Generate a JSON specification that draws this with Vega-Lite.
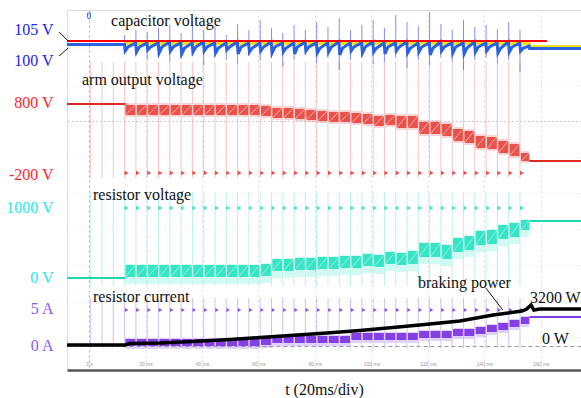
{
  "$schema": "https://vega.github.io/schema/vega-lite/v6.json",
  "width": 514,
  "height": 360,
  "autosize": {"type": "none"},
  "padding": {"left": 67, "top": 10, "right": 0, "bottom": 28},
  "background": "white",
  "config": {"view": {"stroke": "#dcdcdc"}, "font": "Liberation Serif"},
  "datasets": {
    "traces": [
      {"ch": "arm", "seg": 1, "t": -7.8, "v": 104}, {"ch": "arm", "seg": 1, "t": 12.9, "v": 104},
      {"ch": "arm", "seg": 2, "t": 155.9, "v": 161}, {"ch": "arm", "seg": 2, "t": 174.2, "v": 161},
      {"ch": "res", "seg": 1, "t": -7.8, "v": 278}, {"ch": "res", "seg": 1, "t": 12.9, "v": 278},
      {"ch": "res", "seg": 2, "t": 155.9, "v": 221}, {"ch": "res", "seg": 2, "t": 174.2, "v": 221},
      {"ch": "cur", "seg": 1, "t": -7.8, "v": 345}, {"ch": "cur", "seg": 1, "t": 12.9, "v": 345},
      {"ch": "cur", "seg": 2, "t": 155.9, "v": 317}, {"ch": "cur", "seg": 2, "t": 174.2, "v": 317},
      {"ch": "ref", "seg": 1, "t": -7.8, "v": 41}, {"ch": "ref", "seg": 1, "t": 162.1, "v": 41},
      {"ch": "yel", "seg": 1, "t": 12.6, "v": 43.5}, {"ch": "yel", "seg": 1, "t": 155.8, "v": 43.5},
      {"ch": "yel", "seg": 1, "t": 155.9, "v": 46.5}, {"ch": "yel", "seg": 1, "t": 174.2, "v": 46.5},
      {"ch": "pow", "seg": 1, "t": -7.8, "v": 345}, {"ch": "pow", "seg": 1, "t": 12.7, "v": 345},
      {"ch": "pow", "seg": 1, "t": 14.5, "v": 343.5}, {"ch": "pow", "seg": 1, "t": 25.1, "v": 343},
      {"ch": "pow", "seg": 1, "t": 36.8, "v": 341.5}, {"ch": "pow", "seg": 1, "t": 49.9, "v": 339.5},
      {"ch": "pow", "seg": 1, "t": 60.5, "v": 337.5}, {"ch": "pow", "seg": 1, "t": 71.2, "v": 335.5},
      {"ch": "pow", "seg": 1, "t": 84.2, "v": 333}, {"ch": "pow", "seg": 1, "t": 95.9, "v": 330.5},
      {"ch": "pow", "seg": 1, "t": 107.6, "v": 327.5}, {"ch": "pow", "seg": 1, "t": 118.9, "v": 324.5},
      {"ch": "pow", "seg": 1, "t": 131.3, "v": 321}, {"ch": "pow", "seg": 1, "t": 143.1, "v": 315},
      {"ch": "pow", "seg": 1, "t": 150.8, "v": 312}, {"ch": "pow", "seg": 1, "t": 153.3, "v": 311},
      {"ch": "pow", "seg": 1, "t": 155, "v": 309}, {"ch": "pow", "seg": 1, "t": 156.5, "v": 305},
      {"ch": "pow", "seg": 1, "t": 157.5, "v": 310}, {"ch": "pow", "seg": 1, "t": 159.6, "v": 309},
      {"ch": "pow", "seg": 1, "t": 174.2, "v": 309},
      {"ch": "cap", "seg": 1, "t": -7.8, "v": 44.5}, {"ch": "cap", "seg": 1, "t": 12.6, "v": 44.5},
      {"ch": "cap", "seg": 1, "t": 12.8, "v": 51}, {"ch": "cap", "seg": 1, "t": 13.8, "v": 47}, {"ch": "cap", "seg": 1, "t": 16.5, "v": 43},
      {"ch": "cap", "seg": 1, "t": 16.8, "v": 52}, {"ch": "cap", "seg": 1, "t": 17.8, "v": 47}, {"ch": "cap", "seg": 1, "t": 20.5, "v": 43},
      {"ch": "cap", "seg": 1, "t": 20.8, "v": 50}, {"ch": "cap", "seg": 1, "t": 21.8, "v": 47}, {"ch": "cap", "seg": 1, "t": 24.5, "v": 43},
      {"ch": "cap", "seg": 1, "t": 24.8, "v": 53}, {"ch": "cap", "seg": 1, "t": 25.8, "v": 47}, {"ch": "cap", "seg": 1, "t": 28.5, "v": 42},
      {"ch": "cap", "seg": 1, "t": 28.8, "v": 51}, {"ch": "cap", "seg": 1, "t": 29.8, "v": 47}, {"ch": "cap", "seg": 1, "t": 32.5, "v": 43},
      {"ch": "cap", "seg": 1, "t": 32.8, "v": 54}, {"ch": "cap", "seg": 1, "t": 33.8, "v": 48}, {"ch": "cap", "seg": 1, "t": 36.5, "v": 43},
      {"ch": "cap", "seg": 1, "t": 36.8, "v": 52}, {"ch": "cap", "seg": 1, "t": 37.8, "v": 47}, {"ch": "cap", "seg": 1, "t": 40.5, "v": 42},
      {"ch": "cap", "seg": 1, "t": 40.8, "v": 51}, {"ch": "cap", "seg": 1, "t": 41.8, "v": 47}, {"ch": "cap", "seg": 1, "t": 44.5, "v": 43},
      {"ch": "cap", "seg": 1, "t": 44.8, "v": 53}, {"ch": "cap", "seg": 1, "t": 45.8, "v": 48}, {"ch": "cap", "seg": 1, "t": 48.5, "v": 43},
      {"ch": "cap", "seg": 1, "t": 48.8, "v": 50}, {"ch": "cap", "seg": 1, "t": 49.8, "v": 47}, {"ch": "cap", "seg": 1, "t": 52.5, "v": 42},
      {"ch": "cap", "seg": 1, "t": 52.8, "v": 54}, {"ch": "cap", "seg": 1, "t": 53.8, "v": 47}, {"ch": "cap", "seg": 1, "t": 56.5, "v": 43},
      {"ch": "cap", "seg": 1, "t": 56.8, "v": 52}, {"ch": "cap", "seg": 1, "t": 57.8, "v": 48}, {"ch": "cap", "seg": 1, "t": 60.5, "v": 43},
      {"ch": "cap", "seg": 1, "t": 60.8, "v": 51}, {"ch": "cap", "seg": 1, "t": 61.8, "v": 47}, {"ch": "cap", "seg": 1, "t": 64.5, "v": 42},
      {"ch": "cap", "seg": 1, "t": 64.8, "v": 53}, {"ch": "cap", "seg": 1, "t": 65.8, "v": 47}, {"ch": "cap", "seg": 1, "t": 68.5, "v": 43},
      {"ch": "cap", "seg": 1, "t": 68.8, "v": 52}, {"ch": "cap", "seg": 1, "t": 69.8, "v": 48}, {"ch": "cap", "seg": 1, "t": 72.5, "v": 43},
      {"ch": "cap", "seg": 1, "t": 72.8, "v": 54}, {"ch": "cap", "seg": 1, "t": 73.8, "v": 47}, {"ch": "cap", "seg": 1, "t": 76.5, "v": 42},
      {"ch": "cap", "seg": 1, "t": 76.8, "v": 51}, {"ch": "cap", "seg": 1, "t": 77.8, "v": 47}, {"ch": "cap", "seg": 1, "t": 80.5, "v": 43},
      {"ch": "cap", "seg": 1, "t": 80.8, "v": 53}, {"ch": "cap", "seg": 1, "t": 81.8, "v": 48}, {"ch": "cap", "seg": 1, "t": 84.5, "v": 43},
      {"ch": "cap", "seg": 1, "t": 84.8, "v": 52}, {"ch": "cap", "seg": 1, "t": 85.8, "v": 47}, {"ch": "cap", "seg": 1, "t": 88.5, "v": 42},
      {"ch": "cap", "seg": 1, "t": 88.8, "v": 55}, {"ch": "cap", "seg": 1, "t": 89.8, "v": 48}, {"ch": "cap", "seg": 1, "t": 92.5, "v": 43},
      {"ch": "cap", "seg": 1, "t": 92.8, "v": 51}, {"ch": "cap", "seg": 1, "t": 93.8, "v": 47}, {"ch": "cap", "seg": 1, "t": 96.5, "v": 43},
      {"ch": "cap", "seg": 1, "t": 96.8, "v": 53}, {"ch": "cap", "seg": 1, "t": 97.8, "v": 47}, {"ch": "cap", "seg": 1, "t": 100.5, "v": 42},
      {"ch": "cap", "seg": 1, "t": 100.8, "v": 52}, {"ch": "cap", "seg": 1, "t": 101.8, "v": 48}, {"ch": "cap", "seg": 1, "t": 104.5, "v": 43},
      {"ch": "cap", "seg": 1, "t": 104.8, "v": 54}, {"ch": "cap", "seg": 1, "t": 105.8, "v": 47}, {"ch": "cap", "seg": 1, "t": 108.5, "v": 43},
      {"ch": "cap", "seg": 1, "t": 108.8, "v": 51}, {"ch": "cap", "seg": 1, "t": 109.8, "v": 47}, {"ch": "cap", "seg": 1, "t": 112.5, "v": 42},
      {"ch": "cap", "seg": 1, "t": 112.8, "v": 53}, {"ch": "cap", "seg": 1, "t": 113.8, "v": 48}, {"ch": "cap", "seg": 1, "t": 116.5, "v": 43},
      {"ch": "cap", "seg": 1, "t": 116.8, "v": 52}, {"ch": "cap", "seg": 1, "t": 117.8, "v": 47}, {"ch": "cap", "seg": 1, "t": 120.5, "v": 43},
      {"ch": "cap", "seg": 1, "t": 120.8, "v": 55}, {"ch": "cap", "seg": 1, "t": 121.8, "v": 48}, {"ch": "cap", "seg": 1, "t": 124.5, "v": 42},
      {"ch": "cap", "seg": 1, "t": 124.8, "v": 51}, {"ch": "cap", "seg": 1, "t": 125.8, "v": 47}, {"ch": "cap", "seg": 1, "t": 128.5, "v": 43},
      {"ch": "cap", "seg": 1, "t": 128.8, "v": 53}, {"ch": "cap", "seg": 1, "t": 129.8, "v": 47}, {"ch": "cap", "seg": 1, "t": 132.5, "v": 43},
      {"ch": "cap", "seg": 1, "t": 132.8, "v": 54}, {"ch": "cap", "seg": 1, "t": 133.8, "v": 48}, {"ch": "cap", "seg": 1, "t": 136.5, "v": 42},
      {"ch": "cap", "seg": 1, "t": 136.8, "v": 52}, {"ch": "cap", "seg": 1, "t": 137.8, "v": 47}, {"ch": "cap", "seg": 1, "t": 140.5, "v": 43},
      {"ch": "cap", "seg": 1, "t": 140.8, "v": 51}, {"ch": "cap", "seg": 1, "t": 141.8, "v": 47}, {"ch": "cap", "seg": 1, "t": 144.5, "v": 43},
      {"ch": "cap", "seg": 1, "t": 144.8, "v": 53}, {"ch": "cap", "seg": 1, "t": 145.8, "v": 48}, {"ch": "cap", "seg": 1, "t": 148.5, "v": 42},
      {"ch": "cap", "seg": 1, "t": 148.8, "v": 52}, {"ch": "cap", "seg": 1, "t": 149.8, "v": 47}, {"ch": "cap", "seg": 1, "t": 152.5, "v": 43},
      {"ch": "cap", "seg": 1, "t": 152.8, "v": 51}, {"ch": "cap", "seg": 1, "t": 153.8, "v": 48}, {"ch": "cap", "seg": 1, "t": 155.8, "v": 46},
      {"ch": "cap", "seg": 1, "t": 156, "v": 48.5}, {"ch": "cap", "seg": 1, "t": 174.2, "v": 48.5}
    ],
    "spikes": [
      {"k": 0, "t": 0.6}, {"k": 1, "t": 4.6}, {"k": 2, "t": 8.6},
      {"k": 3, "t": 12.6, "bt": 35, "bb": 52}, {"k": 4, "t": 16.6, "bt": 30, "bb": 55},
      {"k": 5, "t": 20.6, "bt": 32, "bb": 60}, {"k": 6, "t": 24.6, "bt": 28, "bb": 54},
      {"k": 7, "t": 28.6, "bt": 25, "bb": 62}, {"k": 8, "t": 32.6, "bt": 33, "bb": 58},
      {"k": 9, "t": 36.6, "bt": 22, "bb": 56}, {"k": 10, "t": 40.6, "bt": 30, "bb": 65},
      {"k": 11, "t": 44.6, "bt": 26, "bb": 57}, {"k": 12, "t": 48.6, "bt": 35, "bb": 60},
      {"k": 13, "t": 52.6, "bt": 24, "bb": 63}, {"k": 14, "t": 56.6, "bt": 30, "bb": 56},
      {"k": 15, "t": 60.6, "bt": 20, "bb": 61}, {"k": 16, "t": 64.6, "bt": 28, "bb": 58},
      {"k": 17, "t": 68.6, "bt": 33, "bb": 66}, {"k": 18, "t": 72.6, "bt": 25, "bb": 60},
      {"k": 19, "t": 76.6, "bt": 30, "bb": 55}, {"k": 20, "t": 80.6, "bt": 22, "bb": 63},
      {"k": 21, "t": 84.6, "bt": 27, "bb": 58}, {"k": 22, "t": 88.6, "bt": 18, "bb": 70},
      {"k": 23, "t": 92.6, "bt": 30, "bb": 60}, {"k": 24, "t": 96.6, "bt": 25, "bb": 57},
      {"k": 25, "t": 100.6, "bt": 20, "bb": 64}, {"k": 26, "t": 104.6, "bt": 28, "bb": 62},
      {"k": 27, "t": 108.6, "bt": 15, "bb": 58}, {"k": 28, "t": 112.6, "bt": 22, "bb": 68},
      {"k": 29, "t": 116.6, "bt": 26, "bb": 60}, {"k": 30, "t": 120.6, "bt": 12, "bb": 65},
      {"k": 31, "t": 124.6, "bt": 24, "bb": 58}, {"k": 32, "t": 128.6, "bt": 30, "bb": 62},
      {"k": 33, "t": 132.6, "bt": 20, "bb": 70}, {"k": 34, "t": 136.6, "bt": 27, "bb": 60},
      {"k": 35, "t": 140.6, "bt": 25, "bb": 58}, {"k": 36, "t": 144.6, "bt": 29, "bb": 63},
      {"k": 37, "t": 148.6, "bt": 22, "bb": 60}, {"k": 38, "t": 152.6, "bt": 30, "bb": 72}
    ],
    "blocks": [
      {"k": 3, "t0": 12.9, "t1": 16.4, "rLo": 105, "rHi": 115, "cLo": 265, "cHi": 277, "pLo": 339, "pHi": 346},
      {"k": 4, "t0": 16.9, "t1": 20.4, "rLo": 105, "rHi": 115, "cLo": 265, "cHi": 277, "pLo": 339, "pHi": 346},
      {"k": 5, "t0": 20.9, "t1": 24.4, "rLo": 105, "rHi": 115, "cLo": 265, "cHi": 277, "pLo": 339, "pHi": 346},
      {"k": 6, "t0": 24.9, "t1": 28.4, "rLo": 105, "rHi": 115, "cLo": 265, "cHi": 277, "pLo": 339, "pHi": 346},
      {"k": 7, "t0": 28.9, "t1": 32.4, "rLo": 105, "rHi": 115, "cLo": 265, "cHi": 277, "pLo": 339, "pHi": 346},
      {"k": 8, "t0": 32.9, "t1": 36.4, "rLo": 105, "rHi": 115, "cLo": 265, "cHi": 277, "pLo": 339, "pHi": 346},
      {"k": 9, "t0": 36.9, "t1": 40.4, "rLo": 105, "rHi": 115, "cLo": 265, "cHi": 277, "pLo": 339, "pHi": 346},
      {"k": 10, "t0": 40.9, "t1": 44.4, "rLo": 105, "rHi": 115, "cLo": 265, "cHi": 277, "pLo": 339, "pHi": 346},
      {"k": 11, "t0": 44.9, "t1": 48.4, "rLo": 105, "rHi": 115, "cLo": 265, "cHi": 277, "pLo": 339, "pHi": 346},
      {"k": 12, "t0": 48.9, "t1": 52.4, "rLo": 105, "rHi": 115, "cLo": 265, "cHi": 277, "pLo": 339, "pHi": 346},
      {"k": 13, "t0": 52.9, "t1": 56.4, "rLo": 105, "rHi": 115, "cLo": 265, "cHi": 277, "pLo": 339, "pHi": 346},
      {"k": 14, "t0": 56.9, "t1": 60.4, "rLo": 105, "rHi": 115, "cLo": 265, "cHi": 277, "pLo": 339, "pHi": 346},
      {"k": 15, "t0": 60.9, "t1": 64.4, "rLo": 106, "rHi": 116, "cLo": 264, "cHi": 276, "pLo": 338, "pHi": 345},
      {"k": 16, "t0": 64.9, "t1": 68.4, "rLo": 108, "rHi": 118, "cLo": 259, "cHi": 271, "pLo": 336, "pHi": 343},
      {"k": 17, "t0": 68.9, "t1": 72.4, "rLo": 108, "rHi": 118, "cLo": 259, "cHi": 271, "pLo": 336, "pHi": 343},
      {"k": 18, "t0": 72.9, "t1": 76.4, "rLo": 109, "rHi": 119, "cLo": 258, "cHi": 270, "pLo": 336, "pHi": 343},
      {"k": 19, "t0": 76.9, "t1": 80.4, "rLo": 110, "rHi": 120, "cLo": 258, "cHi": 270, "pLo": 336, "pHi": 343},
      {"k": 20, "t0": 80.9, "t1": 84.4, "rLo": 111, "rHi": 121, "cLo": 257, "cHi": 269, "pLo": 336, "pHi": 343},
      {"k": 21, "t0": 84.9, "t1": 88.4, "rLo": 112, "rHi": 122, "cLo": 257, "cHi": 269, "pLo": 336, "pHi": 343},
      {"k": 22, "t0": 88.9, "t1": 92.4, "rLo": 112, "rHi": 122, "cLo": 256, "cHi": 268, "pLo": 336, "pHi": 343},
      {"k": 23, "t0": 92.9, "t1": 96.4, "rLo": 113, "rHi": 123, "cLo": 256, "cHi": 268, "pLo": 333, "pHi": 340},
      {"k": 24, "t0": 96.9, "t1": 100.4, "rLo": 114, "rHi": 124, "cLo": 254, "cHi": 266, "pLo": 333, "pHi": 340},
      {"k": 25, "t0": 100.9, "t1": 104.4, "rLo": 116, "rHi": 126, "cLo": 255, "cHi": 267, "pLo": 333, "pHi": 340},
      {"k": 26, "t0": 104.9, "t1": 108.4, "rLo": 115, "rHi": 125, "cLo": 252, "cHi": 264, "pLo": 333, "pHi": 340},
      {"k": 27, "t0": 108.9, "t1": 112.4, "rLo": 116, "rHi": 128, "cLo": 253, "cHi": 265, "pLo": 333, "pHi": 340},
      {"k": 28, "t0": 112.9, "t1": 116.4, "rLo": 116, "rHi": 128, "cLo": 251, "cHi": 264, "pLo": 333, "pHi": 340},
      {"k": 29, "t0": 116.9, "t1": 120.4, "rLo": 122, "rHi": 134, "cLo": 243, "cHi": 257, "pLo": 331, "pHi": 338},
      {"k": 30, "t0": 120.9, "t1": 124.4, "rLo": 122, "rHi": 134, "cLo": 243, "cHi": 257, "pLo": 331, "pHi": 338},
      {"k": 31, "t0": 124.9, "t1": 128.4, "rLo": 124, "rHi": 136, "cLo": 245, "cHi": 259, "pLo": 331, "pHi": 338},
      {"k": 32, "t0": 128.9, "t1": 132.4, "rLo": 129, "rHi": 141, "cLo": 238, "cHi": 252, "pLo": 329, "pHi": 336},
      {"k": 33, "t0": 132.9, "t1": 136.4, "rLo": 131, "rHi": 143, "cLo": 236, "cHi": 250, "pLo": 329, "pHi": 336},
      {"k": 34, "t0": 136.9, "t1": 140.4, "rLo": 136, "rHi": 148, "cLo": 231, "cHi": 245, "pLo": 327, "pHi": 334},
      {"k": 35, "t0": 140.9, "t1": 144.4, "rLo": 137, "rHi": 149, "cLo": 230, "cHi": 244, "pLo": 325, "pHi": 332},
      {"k": 36, "t0": 144.9, "t1": 148.4, "rLo": 141, "rHi": 153, "cLo": 225, "cHi": 239, "pLo": 323, "pHi": 330},
      {"k": 37, "t0": 148.9, "t1": 152.4, "rLo": 144, "rHi": 156, "cLo": 223, "cHi": 237, "pLo": 320, "pHi": 327},
      {"k": 38, "t0": 152.9, "t1": 155.9, "rLo": 153, "rHi": 161, "cLo": 220, "cHi": 230, "pLo": 317, "pHi": 324}
    ],
    "notes": [
      {"txt": "capacitor voltage", "t": 7.8, "v": 21},
      {"txt": "arm output voltage", "t": -2.5, "v": 80},
      {"txt": "resistor voltage", "t": 1.4, "v": 195},
      {"txt": "resistor current", "t": 1.4, "v": 297},
      {"txt": "braking power", "t": 116.5, "v": 283},
      {"txt": "3200 W", "t": 156.1, "v": 298},
      {"txt": "0 W", "t": 160.4, "v": 339}
    ],
    "leaders": [
      {"t": -10.6, "v": 32, "t2": -7.4, "v2": 41},
      {"t": -10.6, "v": 56, "t2": -7.4, "v2": 48},
      {"t": 140.5, "v": 288, "t2": 146.5, "v2": 310}
    ],
    "marker": [{"t": 0, "v": 16}]
  },
  "layer": [
    {
      "data": {"name": "traces"},
      "mark": {"type": "point", "opacity": 0},
      "encoding": {
        "x": {"field": "t", "type": "quantitative", "scale": {"domain": [-7.8, 174.2], "nice": false, "zero": false},
          "axis": {"values": [0, 20, 40, 60, 80, 100, 120, 140, 160],
            "labelExpr": "datum.value == 0 ? '0 s' : datum.value + ' ms'",
            "labelFont": "Liberation Sans", "labelFontSize": 5, "labelColor": "#999", "labelPadding": -7, "labelBaseline": "middle", "labelFlush": false,
            "ticks": false, "domain": true, "domainColor": "#555", "domainWidth": 2.5,
            "grid": true, "gridColor": {"condition": {"test": "datum.value == 0", "value": "#aaa"}, "value": "#ddd"}, "gridDash": [2, 3],
            "title": "t (20ms/div)", "titleFont": "Liberation Serif", "titleFontSize": 16, "titleFontWeight": "normal", "titleColor": "#111", "titlePadding": 11}},
        "y": {"field": "v", "type": "quantitative", "scale": {"domain": [370, 10], "nice": false, "zero": false},
          "axis": {"orient": "right", "values": [49, 85, 121, 157, 193, 229, 265, 301, 337, 346], "labels": false, "ticks": false, "domain": false,
            "grid": true, "gridColor": {"condition": {"test": "datum.value == 121 || datum.value == 346", "value": "#999"}, "value": "#e2e2e2"},
            "gridDash": {"condition": {"test": "datum.value == 346", "value": [4, 3]}, "value": [1, 3]}, "title": null}}
      }
    },
    {
      "data": {"name": "traces"},
      "mark": {"type": "point", "opacity": 0},
      "encoding": {
        "x": {"field": "t", "type": "quantitative", "scale": {"domain": [-7.8, 174.2], "nice": false, "zero": false}, "axis": null},
        "y": {"field": "v", "type": "quantitative", "scale": {"domain": [370, 10], "nice": false, "zero": false},
          "axis": {"orient": "left", "values": [29, 60, 102, 174, 207, 277, 308, 345],
            "labelExpr": "datum.value == 29 ? '105 V' : datum.value == 60 ? '100 V' : datum.value == 102 ? '800 V' : datum.value == 174 ? '-200 V' : datum.value == 207 ? '1000 V' : datum.value == 277 ? '0 V' : datum.value == 308 ? '5 A' : '0 A'",
            "labelFont": "Liberation Serif", "labelFontSize": 16, "labelPadding": 14, "labelBaseline": "middle",
            "labelColor": {"condition": [{"test": "datum.value <= 60", "value": "#2424f0"}, {"test": "datum.value <= 174", "value": "#ff1f1f"}, {"test": "datum.value <= 277", "value": "#1fe8e8"}], "value": "#8a5cf2"},
            "ticks": false, "domain": false, "grid": false, "title": null}}
      }
    },
    {
      "data": {"name": "spikes"},
      "mark": {"type": "rule", "color": "#f2a8a8", "strokeWidth": 1, "opacity": 0.7},
      "encoding": {
        "x": {"field": "t", "type": "quantitative", "scale": {"domain": [-7.8, 174.2], "nice": false, "zero": false}, "axis": null},
        "y": {"datum": 62, "type": "quantitative", "scale": {"domain": [370, 10], "nice": false, "zero": false}, "axis": null},
        "y2": {"datum": 178}
      }
    },
    {
      "data": {"name": "spikes"},
      "mark": {"type": "rule", "color": "#9beee0", "strokeWidth": 1, "opacity": 0.7},
      "encoding": {
        "x": {"field": "t", "type": "quantitative", "scale": {"domain": [-7.8, 174.2], "nice": false, "zero": false}, "axis": null},
        "y": {"datum": 192, "type": "quantitative", "scale": {"domain": [370, 10], "nice": false, "zero": false}, "axis": null},
        "y2": {"datum": 286}
      }
    },
    {
      "data": {"name": "spikes"},
      "mark": {"type": "rule", "color": "#b9a6f0", "strokeWidth": 1, "opacity": 0.7},
      "encoding": {
        "x": {"field": "t", "type": "quantitative", "scale": {"domain": [-7.8, 174.2], "nice": false, "zero": false}, "axis": null},
        "y": {"datum": 298, "type": "quantitative", "scale": {"domain": [370, 10], "nice": false, "zero": false}, "axis": null},
        "y2": {"datum": 348}
      }
    },
    {
      "data": {"name": "blocks"},
      "mark": {"type": "rect", "color": "#f07070", "opacity": 0.3, "yOffset": -2, "y2Offset": 2},
      "encoding": {
        "x": {"field": "t0", "type": "quantitative", "scale": {"domain": [-7.8, 174.2], "nice": false, "zero": false}, "axis": null},
        "x2": {"field": "t1"},
        "y": {"field": "rLo", "type": "quantitative", "scale": {"domain": [370, 10], "nice": false, "zero": false}, "axis": null},
        "y2": {"field": "rHi"}
      }
    },
    {
      "data": {"name": "blocks"},
      "mark": {"type": "rect", "color": "#e83a33", "opacity": 0.85},
      "encoding": {
        "x": {"field": "t0", "type": "quantitative", "scale": {"domain": [-7.8, 174.2], "nice": false, "zero": false}, "axis": null},
        "x2": {"field": "t1"},
        "y": {"field": "rLo", "type": "quantitative", "scale": {"domain": [370, 10], "nice": false, "zero": false}, "axis": null},
        "y2": {"field": "rHi"}
      }
    },
    {
      "data": {"name": "blocks"},
      "mark": {"type": "rule", "color": "#ffffff", "strokeWidth": 1, "opacity": 0.55},
      "encoding": {
        "x": {"field": "t0", "type": "quantitative", "scale": {"domain": [-7.8, 174.2], "nice": false, "zero": false}, "axis": null},
        "x2": {"field": "t1"},
        "y": {"field": "rHi", "type": "quantitative", "scale": {"domain": [370, 10], "nice": false, "zero": false}, "axis": null},
        "y2": {"field": "rLo"}
      }
    },
    {
      "data": {"name": "blocks"},
      "mark": {"type": "rect", "color": "#7af0da", "opacity": 0.35, "yOffset": -1, "y2Offset": 7},
      "encoding": {
        "x": {"field": "t0", "type": "quantitative", "scale": {"domain": [-7.8, 174.2], "nice": false, "zero": false}, "axis": null},
        "x2": {"field": "t1"},
        "y": {"field": "cLo", "type": "quantitative", "scale": {"domain": [370, 10], "nice": false, "zero": false}, "axis": null},
        "y2": {"field": "cHi"}
      }
    },
    {
      "data": {"name": "blocks"},
      "mark": {"type": "rect", "color": "#22e0bf", "opacity": 0.88},
      "encoding": {
        "x": {"field": "t0", "type": "quantitative", "scale": {"domain": [-7.8, 174.2], "nice": false, "zero": false}, "axis": null},
        "x2": {"field": "t1"},
        "y": {"field": "cLo", "type": "quantitative", "scale": {"domain": [370, 10], "nice": false, "zero": false}, "axis": null},
        "y2": {"field": "cHi"}
      }
    },
    {
      "data": {"name": "blocks"},
      "mark": {"type": "rule", "color": "#ffffff", "strokeWidth": 1, "opacity": 0.45},
      "encoding": {
        "x": {"field": "t0", "type": "quantitative", "scale": {"domain": [-7.8, 174.2], "nice": false, "zero": false}, "axis": null},
        "x2": {"field": "t1"},
        "y": {"field": "cHi", "type": "quantitative", "scale": {"domain": [370, 10], "nice": false, "zero": false}, "axis": null},
        "y2": {"field": "cLo"}
      }
    },
    {
      "data": {"name": "blocks"},
      "mark": {"type": "rect", "color": "#a77af0", "opacity": 0.35, "yOffset": -1, "y2Offset": 3},
      "encoding": {
        "x": {"field": "t0", "type": "quantitative", "scale": {"domain": [-7.8, 174.2], "nice": false, "zero": false}, "axis": null},
        "x2": {"field": "t1"},
        "y": {"field": "pLo", "type": "quantitative", "scale": {"domain": [370, 10], "nice": false, "zero": false}, "axis": null},
        "y2": {"field": "pHi"}
      }
    },
    {
      "data": {"name": "blocks"},
      "mark": {"type": "rect", "color": "#7a2fe2", "opacity": 0.9},
      "encoding": {
        "x": {"field": "t0", "type": "quantitative", "scale": {"domain": [-7.8, 174.2], "nice": false, "zero": false}, "axis": null},
        "x2": {"field": "t1"},
        "y": {"field": "pLo", "type": "quantitative", "scale": {"domain": [370, 10], "nice": false, "zero": false}, "axis": null},
        "y2": {"field": "pHi"}
      }
    },
    {
      "data": {"name": "traces"},
      "transform": [{"filter": "datum.ch == 'arm'"}],
      "mark": {"type": "line", "color": "#e02a22", "strokeWidth": 2},
      "encoding": {
        "x": {"field": "t", "type": "quantitative", "scale": {"domain": [-7.8, 174.2], "nice": false, "zero": false}, "axis": null},
        "y": {"field": "v", "type": "quantitative", "scale": {"domain": [370, 10], "nice": false, "zero": false}, "axis": null},
        "detail": {"field": "seg", "type": "nominal"}
      }
    },
    {
      "data": {"name": "traces"},
      "transform": [{"filter": "datum.ch == 'res'"}],
      "mark": {"type": "line", "color": "#1fd9b4", "strokeWidth": 2},
      "encoding": {
        "x": {"field": "t", "type": "quantitative", "scale": {"domain": [-7.8, 174.2], "nice": false, "zero": false}, "axis": null},
        "y": {"field": "v", "type": "quantitative", "scale": {"domain": [370, 10], "nice": false, "zero": false}, "axis": null},
        "detail": {"field": "seg", "type": "nominal"}
      }
    },
    {
      "data": {"name": "traces"},
      "transform": [{"filter": "datum.ch == 'cur'"}],
      "mark": {"type": "line", "color": "#7b3fe4", "strokeWidth": 2},
      "encoding": {
        "x": {"field": "t", "type": "quantitative", "scale": {"domain": [-7.8, 174.2], "nice": false, "zero": false}, "axis": null},
        "y": {"field": "v", "type": "quantitative", "scale": {"domain": [370, 10], "nice": false, "zero": false}, "axis": null},
        "detail": {"field": "seg", "type": "nominal"}
      }
    },
    {
      "data": {"name": "spikes"},
      "transform": [{"filter": "datum.k >= 3"}],
      "mark": {"type": "rule", "color": "#3344dd", "strokeWidth": 1, "opacity": 0.6},
      "encoding": {
        "x": {"field": "t", "type": "quantitative", "scale": {"domain": [-7.8, 174.2], "nice": false, "zero": false}, "axis": null},
        "y": {"field": "bt", "type": "quantitative", "scale": {"domain": [370, 10], "nice": false, "zero": false}, "axis": null},
        "y2": {"field": "bb"}
      }
    },
    {
      "data": {"name": "traces"},
      "transform": [{"filter": "datum.ch == 'yel'"}],
      "mark": {"type": "line", "color": "#f0e020", "strokeWidth": 3},
      "encoding": {
        "x": {"field": "t", "type": "quantitative", "scale": {"domain": [-7.8, 174.2], "nice": false, "zero": false}, "axis": null},
        "y": {"field": "v", "type": "quantitative", "scale": {"domain": [370, 10], "nice": false, "zero": false}, "axis": null}
      }
    },
    {
      "data": {"name": "traces"},
      "transform": [{"filter": "datum.ch == 'cap'"}],
      "mark": {"type": "line", "color": "#2a62e0", "strokeWidth": 3},
      "encoding": {
        "x": {"field": "t", "type": "quantitative", "scale": {"domain": [-7.8, 174.2], "nice": false, "zero": false}, "axis": null},
        "y": {"field": "v", "type": "quantitative", "scale": {"domain": [370, 10], "nice": false, "zero": false}, "axis": null}
      }
    },
    {
      "data": {"name": "traces"},
      "transform": [{"filter": "datum.ch == 'ref'"}],
      "mark": {"type": "line", "color": "#ff0000", "strokeWidth": 2},
      "encoding": {
        "x": {"field": "t", "type": "quantitative", "scale": {"domain": [-7.8, 174.2], "nice": false, "zero": false}, "axis": null},
        "y": {"field": "v", "type": "quantitative", "scale": {"domain": [370, 10], "nice": false, "zero": false}, "axis": null}
      }
    },
    {
      "data": {"name": "spikes"},
      "transform": [{"filter": "datum.k >= 3"}],
      "mark": {"type": "point", "shape": "triangle-right", "size": 20, "filled": true, "color": "#e5302b", "opacity": 0.85, "xOffset": 2},
      "encoding": {
        "x": {"field": "t", "type": "quantitative", "scale": {"domain": [-7.8, 174.2], "nice": false, "zero": false}, "axis": null},
        "y": {"datum": 173, "type": "quantitative", "scale": {"domain": [370, 10], "nice": false, "zero": false}, "axis": null}
      }
    },
    {
      "data": {"name": "spikes"},
      "transform": [{"filter": "datum.k >= 3"}],
      "mark": {"type": "point", "shape": "triangle-right", "size": 20, "filled": true, "color": "#22e0bf", "opacity": 0.85, "xOffset": 2},
      "encoding": {
        "x": {"field": "t", "type": "quantitative", "scale": {"domain": [-7.8, 174.2], "nice": false, "zero": false}, "axis": null},
        "y": {"datum": 208, "type": "quantitative", "scale": {"domain": [370, 10], "nice": false, "zero": false}, "axis": null}
      }
    },
    {
      "data": {"name": "spikes"},
      "transform": [{"filter": "datum.k >= 3"}],
      "mark": {"type": "point", "shape": "triangle-right", "size": 16, "filled": true, "color": "#7a2fe2", "opacity": 0.85, "xOffset": 2},
      "encoding": {
        "x": {"field": "t", "type": "quantitative", "scale": {"domain": [-7.8, 174.2], "nice": false, "zero": false}, "axis": null},
        "y": {"datum": 310, "type": "quantitative", "scale": {"domain": [370, 10], "nice": false, "zero": false}, "axis": null}
      }
    },
    {
      "data": {"name": "traces"},
      "transform": [{"filter": "datum.ch == 'pow'"}],
      "mark": {"type": "line", "color": "#000000", "strokeWidth": 3.5},
      "encoding": {
        "x": {"field": "t", "type": "quantitative", "scale": {"domain": [-7.8, 174.2], "nice": false, "zero": false}, "axis": null},
        "y": {"field": "v", "type": "quantitative", "scale": {"domain": [370, 10], "nice": false, "zero": false}, "axis": null}
      }
    },
    {
      "data": {"name": "leaders"},
      "mark": {"type": "rule", "color": "#111", "strokeWidth": 1, "clip": false},
      "encoding": {
        "x": {"field": "t", "type": "quantitative", "scale": {"domain": [-7.8, 174.2], "nice": false, "zero": false}, "axis": null},
        "x2": {"field": "t2"},
        "y": {"field": "v", "type": "quantitative", "scale": {"domain": [370, 10], "nice": false, "zero": false}, "axis": null},
        "y2": {"field": "v2"}
      }
    },
    {
      "data": {"name": "notes"},
      "mark": {"type": "text", "align": "left", "baseline": "middle", "font": "Liberation Serif", "fontSize": 16, "color": "#111"},
      "encoding": {
        "x": {"field": "t", "type": "quantitative", "scale": {"domain": [-7.8, 174.2], "nice": false, "zero": false}, "axis": null},
        "y": {"field": "v", "type": "quantitative", "scale": {"domain": [370, 10], "nice": false, "zero": false}, "axis": null},
        "text": {"field": "txt", "type": "nominal"}
      }
    },
    {
      "data": {"name": "marker"},
      "mark": {"type": "point", "shape": "M-0.15,-0.3 L0.15,-0.3 L0.15,0.18 L0,0.3 L-0.15,0.18 Z", "size": 400, "filled": true, "color": "#cfe0f5", "stroke": "#3a78d0", "strokeWidth": 1, "opacity": 1},
      "encoding": {
        "x": {"field": "t", "type": "quantitative", "scale": {"domain": [-7.8, 174.2], "nice": false, "zero": false}, "axis": null},
        "y": {"field": "v", "type": "quantitative", "scale": {"domain": [370, 10], "nice": false, "zero": false}, "axis": null}
      }
    }
  ],
  "resolve": {"axis": {"x": "independent", "y": "independent"}}
}
